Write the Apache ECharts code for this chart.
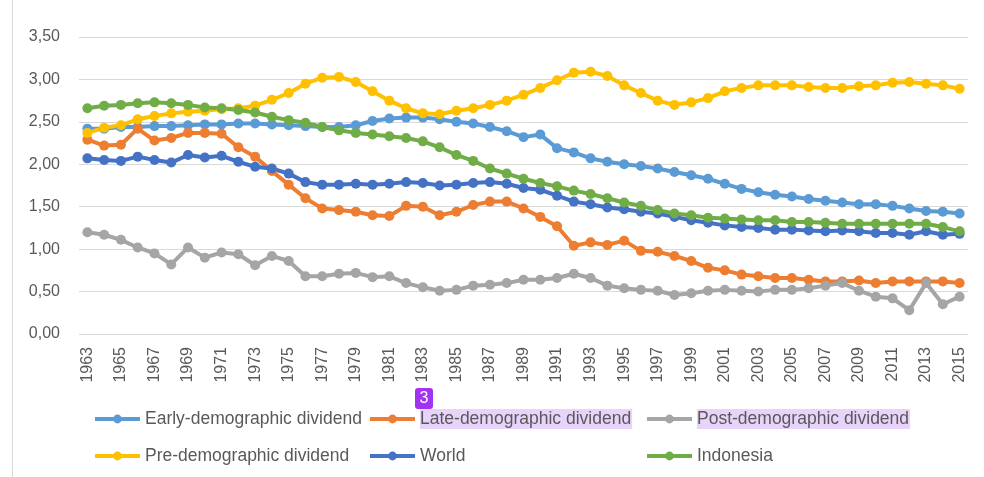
<!DOCTYPE html>
<html>
<head>
<meta charset="utf-8">
<script src="https://cdn.jsdelivr.net/npm/echarts@6/dist/echarts.min.js"></script>
<style>html,body{margin:0;padding:0;background:#fff;}#c{width:984px;height:477px;}</style>
</head>
<body>
<div id="c"></div>
<script>
const years = [];
for (let y = 1963; y <= 2015; y++) years.push(String(y));

const yTicks = [0, 0.5, 1, 1.5, 2, 2.5, 3, 3.5];

const early = [2.42,2.42,2.44,2.44,2.45,2.45,2.46,2.47,2.47,2.48,2.48,2.47,2.46,2.45,2.44,2.44,2.46,2.51,2.54,2.55,2.55,2.53,2.50,2.48,2.44,2.39,2.32,2.35,2.19,2.14,2.07,2.03,2.00,1.98,1.95,1.91,1.87,1.83,1.77,1.71,1.67,1.64,1.62,1.59,1.57,1.55,1.53,1.53,1.51,1.48,1.45,1.44,1.42];
const late = [2.29,2.22,2.23,2.42,2.28,2.31,2.37,2.37,2.36,2.20,2.09,1.92,1.76,1.60,1.48,1.46,1.44,1.40,1.39,1.51,1.50,1.40,1.44,1.52,1.56,1.56,1.48,1.38,1.27,1.04,1.08,1.05,1.10,0.98,0.97,0.92,0.86,0.78,0.75,0.70,0.68,0.66,0.66,0.64,0.62,0.62,0.63,0.60,0.62,0.62,0.62,0.62,0.60];
const post = [1.20,1.17,1.11,1.02,0.95,0.82,1.02,0.90,0.96,0.94,0.81,0.92,0.86,0.68,0.68,0.71,0.72,0.67,0.68,0.60,0.55,0.51,0.52,0.57,0.58,0.60,0.64,0.64,0.66,0.71,0.66,0.57,0.54,0.52,0.51,0.46,0.48,0.51,0.52,0.51,0.50,0.52,0.52,0.54,0.57,0.60,0.51,0.44,0.42,0.28,0.60,0.35,0.44];
const pre = [2.37,2.43,2.46,2.53,2.57,2.60,2.62,2.63,2.65,2.66,2.69,2.76,2.84,2.95,3.02,3.03,2.97,2.86,2.75,2.66,2.60,2.59,2.63,2.66,2.70,2.75,2.82,2.90,2.99,3.08,3.09,3.04,2.93,2.84,2.75,2.70,2.73,2.78,2.86,2.90,2.93,2.93,2.93,2.91,2.90,2.90,2.92,2.93,2.96,2.97,2.95,2.93,2.89];
const world = [2.07,2.05,2.04,2.09,2.05,2.02,2.11,2.08,2.10,2.03,1.97,1.95,1.89,1.79,1.76,1.76,1.77,1.76,1.77,1.79,1.78,1.75,1.76,1.78,1.79,1.77,1.72,1.70,1.63,1.56,1.53,1.49,1.47,1.44,1.42,1.38,1.34,1.31,1.28,1.26,1.25,1.23,1.23,1.22,1.21,1.22,1.21,1.19,1.19,1.17,1.21,1.17,1.18];
const indonesia = [2.66,2.69,2.70,2.72,2.73,2.72,2.70,2.67,2.66,2.64,2.61,2.56,2.52,2.49,2.44,2.40,2.37,2.35,2.33,2.31,2.27,2.20,2.11,2.04,1.95,1.89,1.83,1.78,1.74,1.69,1.65,1.60,1.55,1.51,1.46,1.42,1.40,1.37,1.36,1.35,1.34,1.34,1.32,1.32,1.31,1.30,1.30,1.30,1.30,1.30,1.30,1.26,1.21];

const names = ['Early-demographic dividend','Late-demographic dividend','Post-demographic dividend','Pre-demographic dividend','World','Indonesia'];
const colors = ['#5B9BD5','#ED7D31','#A5A5A5','#FFC000','#4472C4','#70AD47'];
const seriesData = [early, late, post, pre, world, indonesia];

const FONT = 'Liberation Sans';
const chart = echarts.init(document.getElementById('c'), null, {renderer: 'canvas'});

// legend placement: [left, top] per item
const legendPos = [[93, 409], [368, 409], [645, 409], [93, 446], [368, 446], [645, 446]];
const highlighted = [false, true, true, false, false, false];

const legends = names.map((n, i) => ({
  orient: 'horizontal', padding: 0, itemWidth: 45, itemHeight: 11,
  left: legendPos[i][0], top: legendPos[i][1],
  lineStyle: {width: 4},
  textStyle: Object.assign({fontFamily: FONT, fontSize: 17.5, color: '#595959', lineHeight: 20, height: 20, padding: [0, 1, 0, 0]},
    highlighted[i] ? {backgroundColor: '#E8D3FB'} : {}),
  data: [n]
}));

chart.setOption({
  animation: false,
  color: colors,
  grid: {left: 79, right: 16, top: 37, bottom: 143, containLabel: false},
  xAxis: {
    type: 'category', data: years, boundaryGap: true,
    axisLine: {show: false}, axisTick: {show: false},
    axisLabel: {interval: 1, rotate: 90, fontFamily: FONT, fontSize: 16, color: '#595959', margin: 13}
  },
  yAxis: {
    type: 'value', min: yTicks[0], max: yTicks[yTicks.length - 1], interval: 0.5,
    axisLine: {show: false}, axisTick: {show: false},
    splitLine: {lineStyle: {color: '#D9D9D9', width: 1}},
    axisLabel: {fontFamily: FONT, fontSize: 16, color: '#595959', margin: 19,
      formatter: v => v.toFixed(2).replace('.', ',')}
  },
  legend: legends,
  graphic: [
    {type: 'line', shape: {x1: 12.5, y1: 0, x2: 12.5, y2: 477}, style: {stroke: '#D9D9D9', lineWidth: 1}},
    {type: 'rect', shape: {x: 415, y: 388, width: 18, height: 21, r: 3}, style: {fill: '#A233F2'}},
    {type: 'text', x: 424, y: 398.5, style: {text: '3', fill: '#fff', font: '16px Liberation Sans', align: 'center', verticalAlign: 'middle'}}
  ],
  series: seriesData.map((d, i) => ({
    name: names[i], type: 'line', data: d,
    symbol: 'circle', symbolSize: 10, showSymbol: true,
    lineStyle: {width: 4, color: colors[i]},
    itemStyle: {color: colors[i]},
    emphasis: {disabled: true}
  }))
});
</script>
</body>
</html>
